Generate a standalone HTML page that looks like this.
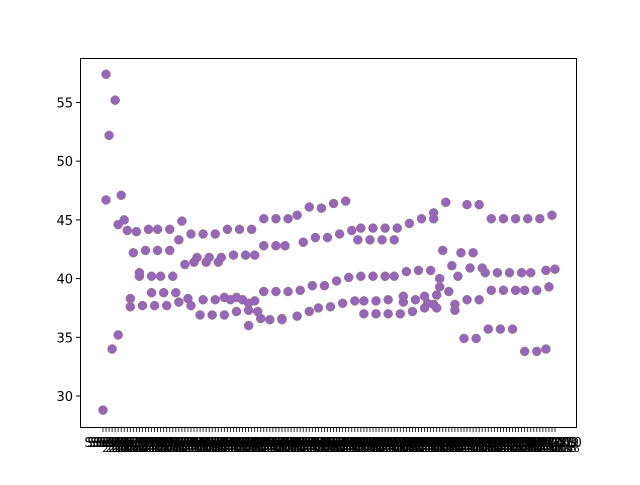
<!DOCTYPE html>
<html><head><meta charset="utf-8"><style>
body{margin:0;background:#fff;}
svg text{font-family:"DejaVu Sans","Liberation Sans",sans-serif;}
</style></head><body>
<svg id="chart" width="640" height="480" xmlns="http://www.w3.org/2000/svg">
<rect width="640" height="480" fill="#fff"/>
<g id="xlabels"></g>
<g id="yaxis"></g>
<g id="points"></g>
<rect x="80.5" y="58.5" width="496" height="369" fill="none" stroke="#000" stroke-width="1"/>
</svg>
<script>
const categoryCount = 150;
const yTicks = [30, 35, 40, 45, 50, 55];
const pointIdx = [1,4,2,1,6,5,7,8,11,15,18,22,26,25,29,33,37,41,45,49,10,14,18,22,27,30,31,34,35,38,39,43,47,50,12,12,16,19,23,9,9,16,20,24,13,17,21,25,28,29,33,37,40,42,44,46,48,32,36,40,44,48,5,3,0,
53,57,61,64,68,72,76,80,53,57,60,66,70,74,78,82,85,89,93,97,101,84,88,92,96,53,57,61,65,69,73,77,81,85,89,93,96,100,50,48,51,52,55,59,59,64,68,71,75,79,83,86,90,94,99,86,90,94,98,
113,109,120,124,128,132,136,140,144,148,105,109,112,118,122,104,108,115,117,121,125,126,130,134,138,141,146,149,111,111,114,128,132,136,139,143,147,99,103,106,107,110,109,106,110,102,116,116,120,124,119,123,127,131,135,139,143,146];
const pointVal = [57.4,55.2,52.2,46.7,47.1,44.6,45.0,44.1,44.0,44.2,44.2,44.2,44.9,43.3,43.8,43.8,43.8,44.2,44.2,44.2,42.2,42.4,42.4,42.4,41.2,41.4,41.8,41.4,41.8,41.4,41.8,42.0,42.0,42.0,40.2,40.5,40.2,40.2,40.2,38.3,37.6,38.8,38.8,38.8,37.7,37.7,37.7,38.0,38.3,37.7,38.2,38.2,38.4,38.2,38.4,38.2,37.9,36.9,36.9,36.9,37.2,36.0,35.2,34.0,28.8,
45.1,45.1,45.1,45.4,46.1,46.0,46.4,46.6,42.8,42.8,42.8,43.1,43.5,43.5,43.8,44.1,44.3,44.3,44.3,44.3,44.7,43.3,43.3,43.3,43.3,38.9,38.9,38.9,39.0,39.4,39.4,39.8,40.1,40.2,40.2,40.2,40.2,40.6,38.1,37.3,37.2,36.6,36.5,36.6,36.5,36.8,37.2,37.5,37.6,37.9,38.1,38.1,38.1,38.2,38.0,37.0,37.0,37.0,37.0,
46.5,45.6,46.3,46.3,45.1,45.1,45.1,45.1,45.1,45.4,45.1,45.1,42.4,42.2,42.2,40.7,40.7,41.1,40.2,40.9,40.9,40.5,40.5,40.5,40.5,40.5,40.7,40.8,40.0,39.3,38.9,39.0,39.0,39.0,39.0,39.0,39.3,38.5,38.2,38.5,37.9,38.6,37.8,37.5,37.5,37.2,37.8,37.3,38.2,38.2,34.9,34.9,35.7,35.7,35.7,33.8,33.8,34.0];
const categories = [];
for (let i = 0; i < categoryCount; i++) categories.push("Site " + (i + 1) + "\n20" + (10 + i % 13));

const NS = "http://www.w3.org/2000/svg";
const x = i => 103 + i * (452 / (categoryCount - 1));
const y = v => 396 - (v - 30) * 11.74;

const ya = document.getElementById("yaxis");
yTicks.forEach(t => {
  const l = document.createElementNS(NS, "line");
  l.setAttribute("x1", 76); l.setAttribute("x2", 80); l.setAttribute("y1", y(t)); l.setAttribute("y2", y(t));
  l.setAttribute("stroke", "#000");
  
  
  ya.appendChild(l);
  const tx = document.createElementNS(NS, "text");
  tx.setAttribute("x", 73); tx.setAttribute("y", y(t) + 5); tx.setAttribute("text-anchor", "end");
  tx.setAttribute("font-size", "13"); tx.textContent = t;
  
  
  ya.appendChild(tx);
});

const xl = document.getElementById("xlabels");
categories.forEach((c, i) => {
  const l = document.createElementNS(NS, "line");
  l.setAttribute("x1", x(i)); l.setAttribute("x2", x(i)); l.setAttribute("y1", 428); l.setAttribute("y2", 432);
  l.setAttribute("stroke", "#000"); l.setAttribute("stroke-width", "0.8");
  
  
  xl.appendChild(l);
  const parts = c.split("\n");
  const t1 = document.createElementNS(NS, "text");
  t1.setAttribute("x", x(i)); t1.setAttribute("y", 447); t1.setAttribute("text-anchor", "middle");
  t1.setAttribute("font-size", "13"); t1.textContent = parts[0];
  
  
  xl.appendChild(t1);
  const t2 = document.createElementNS(NS, "text");
  t2.setAttribute("x", x(i) + 12); t2.setAttribute("y", 452); t2.setAttribute("text-anchor", "middle");
  t2.setAttribute("font-size", "10"); t2.textContent = parts[1];
  
  
  xl.appendChild(t2);
});

const pg = document.getElementById("points");
pointIdx.forEach((idx, k) => {
  const c = document.createElementNS(NS, "circle");
  c.setAttribute("cx", x(idx)); c.setAttribute("cy", y(pointVal[k])); c.setAttribute("r", 4.5);
  c.setAttribute("fill", "#9467bd"); c.setAttribute("stroke", "#a0706a"); c.setAttribute("stroke-width", "0.5");
  
  
  pg.appendChild(c);
});
</script>
</body></html>
